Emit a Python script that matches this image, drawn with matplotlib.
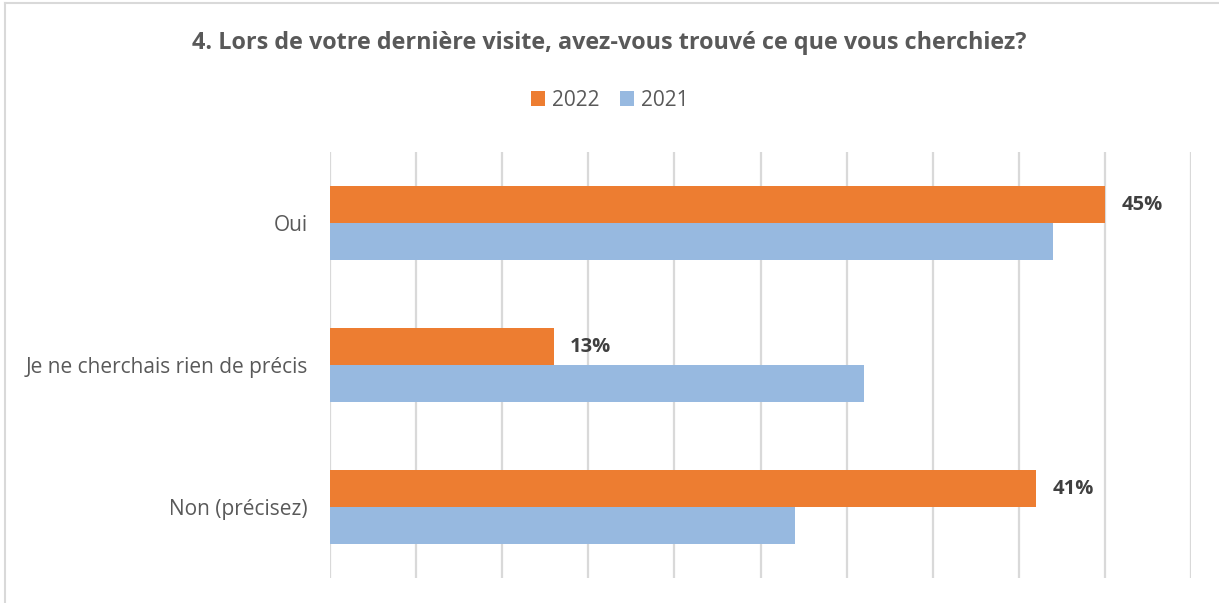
import numpy as np
import matplotlib.pyplot as plt
from matplotlib.lines import Line2D

categories = ['Oui', 'Je ne cherchais rien de précis', 'Non (précisez)']
values_2022 = [45, 13, 41]
values_2021 = [42, 31, 27]
labels_2022 = ['45%', '13%', '41%']

orange = '#ED7D31'
blue = '#97B9E0'
text_grey = '#595959'

plt.rcParams['font.family'] = ['Open Sans', 'DejaVu Sans']

fig = plt.figure(figsize=(12.19, 6.03), dpi=100)
ax = fig.add_axes([330 / 1219, 1 - 578 / 603, (1191 - 330) / 1219, (578 - 152) / 603])

y = np.arange(len(categories))
h = 0.26
ax.barh(y - h / 2, values_2022, height=h, color=orange, label='2022', zorder=3)
ax.barh(y + h / 2, values_2021, height=h, color=blue, label='2021', zorder=3)

for yi, v, lab in zip(y, values_2022, labels_2022):
    ax.text(v + 0.95, yi - h / 2, lab, va='center', ha='left', fontsize=14.5,
            fontweight='bold', color='#404040')

ax.set_xlim(0, 50)
ax.set_ylim(len(categories) - 0.5, -0.5)
ax.set_xticks(np.arange(0, 51, 5))
ax.set_xticklabels([])
ax.set_yticks(y)
ax.set_yticklabels(categories, fontsize=15, color=text_grey)
ax.tick_params(axis='both', length=0, pad=16)
ax.grid(axis='x', color='#D9D9D9', linewidth=1.6, zorder=0)
for s in ax.spines.values():
    s.set_visible(False)

fig.text(0.5, 1 - 43 / 603, '4. Lors de votre dernière visite, avez-vous trouvé ce que vous cherchiez?',
         ha='center', va='center', fontsize=16.8, fontweight='bold', color=text_grey)

fig.legend(loc='center', bbox_to_anchor=(0.5, 1 - 100 / 603), ncol=2, frameon=False,
           fontsize=15, labelcolor=text_grey, handlelength=0.7, handleheight=0.7,
           handletextpad=0.3, columnspacing=1.0)

# chart area border (top and left only visible)
fig.add_artist(Line2D([5 / 1219, 5 / 1219], [0, 1 - 3 / 603], color='#D9D9D9', linewidth=1.5,
                      transform=fig.transFigure))
fig.add_artist(Line2D([5 / 1219, 1], [1 - 3 / 603, 1 - 3 / 603], color='#D9D9D9', linewidth=1.5,
                      transform=fig.transFigure))

fig.savefig('out.png', dpi=100)
